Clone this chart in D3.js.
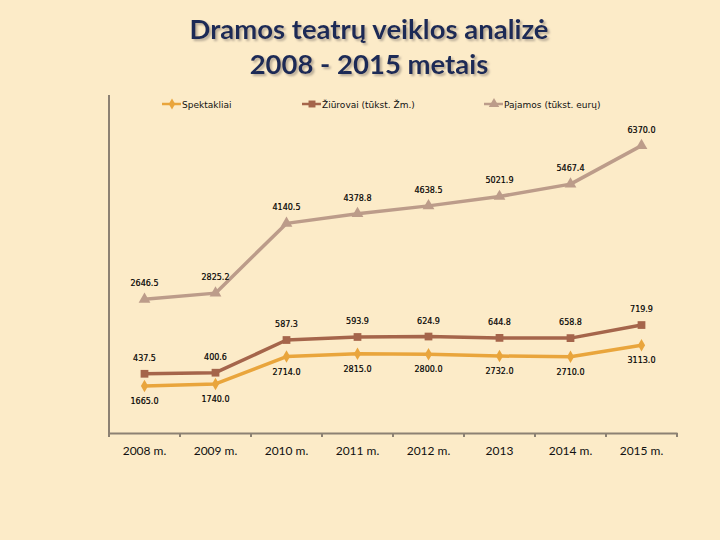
<!DOCTYPE html>
<html><head><meta charset="utf-8">
<script src="https://cdn.jsdelivr.net/npm/d3@7/dist/d3.min.js"></script>
<style>html,body{margin:0;padding:0;background:#FCEBC8;}svg{display:block;}</style>
</head><body>
<svg id="chart" width="720" height="540"></svg>
<script>
const categories = ["2008 m.", "2009 m.", "2010 m.", "2011 m.", "2012 m.", "2013", "2014 m.", "2015 m."];
const spektakliai = [1665.0, 1740.0, 2714.0, 2815.0, 2800.0, 2732.0, 2710.0, 3113.0];
const ziurovai = [437.5, 400.6, 587.3, 593.9, 624.9, 644.8, 658.8, 719.9];
const pajamos = [2646.5, 2825.2, 4140.5, 4378.8, 4638.5, 5021.9, 5467.4, 6370.0];
const seriesNames = ["Spektakliai", "Žiūrovai (tūkst. Žm.)", "Pajamos (tūkst. eurų)"];
const titleLines = ["Dramos teatrų veiklos analizė", "2008 - 2015 metais"];

const colors = ["#E9A53C", "#A5654B", "#BC9C8A"];
const markers = [d3.symbolDiamond, d3.symbolSquare, d3.symbolTriangle];
const markerSizes = [45, 60, 60];
const labelDy = [15, -13, -13];

const svg = d3.select("#chart");
const defs = svg.append("defs");
const f = defs.append("filter").attr("id", "tshadow").attr("x", "-10%").attr("y", "-30%").attr("width", "130%").attr("height", "160%");
f.append("feDropShadow").attr("dx", 2).attr("dy", 2).attr("stdDeviation", 0.8)
  .attr("flood-color", "#9a8f80").attr("flood-opacity", 0.7);

svg.append("rect").attr("width", 720).attr("height", 540).attr("fill", "#FCEBC8");

// title
svg.append("g").attr("font-family", "Lato, 'Open Sans', sans-serif").attr("font-weight", "bold")
  .attr("font-size", 27.5).attr("text-anchor", "middle").attr("fill", "#1C2B57").attr("filter", "url(#tshadow)")
  .selectAll("text").data(titleLines).join("text")
  .attr("x", 369).attr("y", (d, i) => 39 + i * 35).text(d => d);

const x0 = 109, x1 = 677, yTop = 95, yBot = 433;
const rows = categories.map((c, i) => ({cat: c, s: spektakliai[i], z: ziurovai[i], p: pajamos[i]}));
const stacked = d3.stack().keys(["s", "z", "p"])(rows);

const x = d3.scaleBand().domain(categories).range([x0, x1]);
const y = d3.scaleLinear().domain([0, 12000]).range([yBot, yTop]);

// left axis line (no ticks)
svg.append("line").attr("x1", x0).attr("x2", x0).attr("y1", yTop).attr("y2", yBot)
  .attr("stroke", "#8C8173").attr("stroke-width", 2);

// x axis
const gx = svg.append("g").attr("transform", `translate(0,${yBot})`).call(d3.axisBottom(x).tickSize(0).tickPadding(13));
gx.select(".domain").attr("stroke", "#8C8173").attr("stroke-width", 2);
gx.selectAll("text").attr("font-family", "Lato, sans-serif").attr("font-size", 12).attr("fill", "#111");
const bounds = categories.map(c => x(c)).concat([x1]);
svg.append("g").selectAll("line").data(bounds).join("line")
  .attr("x1", d => d).attr("x2", d => d).attr("y1", yBot).attr("y2", yBot + 4)
  .attr("stroke", "#8C8173").attr("stroke-width", 2);

const cx = c => x(c) + x.bandwidth() / 2;
const line = d3.line().x(d => cx(d.data.cat)).y(d => y(d[1]));

const realVals = [spektakliai, ziurovai, pajamos];
stacked.forEach((ser, si) => {
  const g = svg.append("g");
  g.append("path").datum(ser).attr("d", line).attr("fill", "none")
    .attr("stroke", colors[si]).attr("stroke-width", 3.5).attr("stroke-linejoin", "round");
  g.selectAll("path.m").data(ser).join("path").attr("class", "m")
    .attr("d", d3.symbol().type(markers[si]).size(markerSizes[si]))
    .attr("transform", d => `translate(${cx(d.data.cat)},${y(d[1])})`)
    .attr("fill", colors[si]);
  g.selectAll("text").data(ser).join("text")
    .attr("x", d => cx(d.data.cat)).attr("y", d => y(d[1]) + labelDy[si] + (labelDy[si] > 0 ? 3 : 0))
    .attr("text-anchor", "middle").attr("font-family", "'DejaVu Sans', Verdana, sans-serif")
    .attr("font-size", 8).attr("fill", "#000").attr("stroke", "#000").attr("stroke-width", 0.2)
    .text((d, i) => realVals[si][i].toFixed(1));
});

// legend
const legX = [162, 302, 484];
seriesNames.forEach((n, i) => {
  const g = svg.append("g").attr("transform", `translate(${legX[i]},104)`);
  g.append("line").attr("x1", 0).attr("x2", 19).attr("stroke", colors[i]).attr("stroke-width", 2.5);
  g.append("path").attr("d", d3.symbol().type(markers[i]).size(markerSizes[i] * 0.8)).attr("transform", "translate(10,0)").attr("fill", colors[i]);
  g.append("text").attr("x", 20).attr("y", 3.5).attr("font-family", "'DejaVu Sans', Verdana, sans-serif")
    .attr("font-size", 9).attr("fill", "#111").text(n);
});
</script>
</body></html>
